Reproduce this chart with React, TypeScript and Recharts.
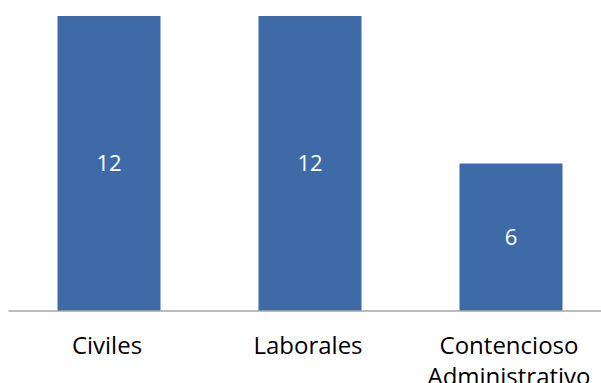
import { BarChart, Bar, XAxis, YAxis, LabelList } from "recharts"

const categories = ["Civiles", "Laborales", "Contencioso Administrativo"]
const values = [12, 12, 6]

const data = categories.map((name, i) => ({ name, value: values[i] }))

const FONT = "'Open Sans', sans-serif"

function CategoryTick(props: any) {
  const { x, y, payload } = props
  const lines = String(payload.value).split(" ")
  return (
    <text x={x} y={y} textAnchor="middle" fill="#000" fontSize={24} fontFamily={FONT}>
      {lines.map((l, i) => (
        <tspan key={i} x={x - 2} y={y + 35 + i * 31}>
          {l}
        </tspan>
      ))}
    </text>
  )
}

export default function App() {
  return (
    <div style={{ position: "absolute", left: 0, top: 0, width: 601, height: 383, overflow: "hidden", background: "#fff" }}>
      <BarChart
        width={612}
        height={383}
        data={data}
        margin={{ top: 16, right: 0.5, left: 8.5, bottom: 0 }}
        barSize={103}
      >
        <XAxis
          dataKey="name"
          axisLine={{ stroke: "#a6a6a6", strokeWidth: 1.5 }}
          tickLine={false}
          height={72}
          interval={0}
          tick={<CategoryTick />}
        />
        <YAxis hide domain={[0, 12]} />
        <Bar dataKey="value" fill="#3e6ba7" isAnimationActive={false}>
          <LabelList dataKey="value" position="center" fill="#ffffff" fontSize={22} fontFamily={FONT} />
        </Bar>
      </BarChart>
    </div>
  )
}
